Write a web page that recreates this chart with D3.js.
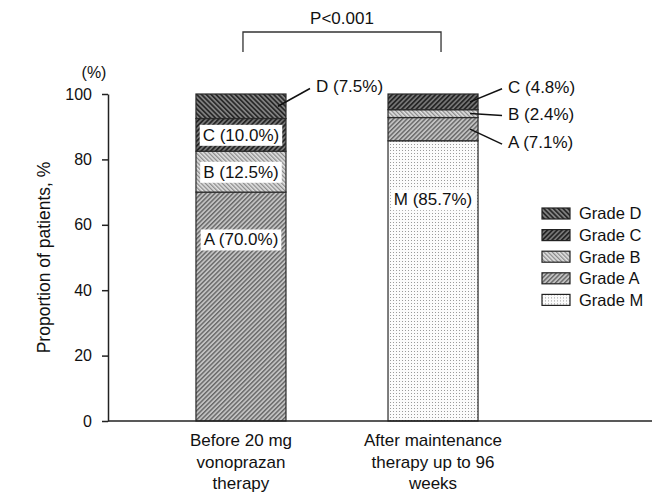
<!DOCTYPE html>
<html>
<head>
<meta charset="utf-8">
<script src="https://cdn.jsdelivr.net/npm/d3@7"></script>
<style>
  body { margin: 0; background: #fff; }
  text { font-family: "Liberation Sans", Arial, Helvetica, sans-serif; fill: #111; }
</style>
</head>
<body>
<div id="chart"></div>
<script>
// data
const groups = ['before', 'after'];
const groupLabels = [['Before 20 mg', 'vonoprazan', 'therapy'], ['After maintenance', 'therapy up to 96', 'weeks']];
const grades = ['M', 'A', 'B', 'C', 'D'];
const beforeValues = [0, 70.0, 12.5, 10.0, 7.5];
const afterValues = [85.7, 7.1, 2.4, 4.8, 0];
const yTicks = [0, 20, 40, 60, 80, 100];
const legendGrades = ['D', 'C', 'B', 'A', 'M'];
const pValue = 'P<0.001';
// label anchors in % units (null = no label), outside = drawn right of the bar with a leader
const beforeLabelAt = [null, 55.5, 76.2, 87.5, 102.3];
const beforeOutside = [false, false, false, false, true];
const afterLabelAt = [67.8, 85.3, 94.0, 102.2, null];
const afterOutside = [false, true, true, true, false];

const W = 654, H = 492;
const svg = d3.select('#chart').append('svg')
    .attr('width', W)
    .attr('height', H);

// hatch patterns
const defs = svg.append('defs');
function hatch(id, bg, fg, angle, size, lw) {
    const p = defs.append('pattern')
        .attr('id', id)
        .attr('patternUnits', 'userSpaceOnUse')
        .attr('width', size).attr('height', size)
        .attr('patternTransform', 'rotate(' + angle + ')');
    p.append('rect').attr('width', size).attr('height', size).attr('fill', bg);
    p.append('rect').attr('width', lw).attr('height', size).attr('fill', fg);
}
hatch('pD', '#868686', '#2a2a2a', -45, 3.4, 1.8);
hatch('pC', '#7a7a7a', '#262626', 45, 3.4, 1.8);
hatch('pB', '#e2e2e2', '#8a8a8a', -45, 3, 1.3);
hatch('pA', '#c2c2c2', '#666', 45, 3.2, 1.4);
const dots = defs.append('pattern')
    .attr('id', 'pM')
    .attr('patternUnits', 'userSpaceOnUse')
    .attr('width', 3).attr('height', 3);
dots.append('rect').attr('width', 3).attr('height', 3).attr('fill', '#fbfbfb');
dots.append('rect').attr('width', 1).attr('height', 1).attr('fill', '#9a9a9a');

const fills = { M: 'url(#pM)', A: 'url(#pA)', B: 'url(#pB)', C: 'url(#pC)', D: 'url(#pD)' };

const x = d3.scaleBand()
    .domain(groups)
    .range([108, 566])
    .paddingInner(0.53125)
    .paddingOuter(0.458);

const y = d3.scaleLinear()
    .domain([0, 100])
    .range([421, 94]);

const table = groups.map((g, i) => {
    const vals = i === 0 ? beforeValues : afterValues;
    const at = i === 0 ? beforeLabelAt : afterLabelAt;
    const out = i === 0 ? beforeOutside : afterOutside;
    let acc = 0;
    return grades.map((gr, j) => {
        const seg = { group: g, grade: gr, value: vals[j], y0: acc, y1: acc + vals[j], labelAt: at[j], outside: out[j] };
        acc += vals[j];
        return seg;
    }).filter(d => d.value > 0);
});

// bars
table.forEach(segs => {
    svg.append('g').selectAll('rect')
        .data(segs)
        .join('rect')
        .attr('x', d => x(d.group))
        .attr('y', d => y(d.y1))
        .attr('width', x.bandwidth())
        .attr('height', d => y(d.y0) - y(d.y1))
        .attr('fill', d => fills[d.grade])
        .attr('stroke', '#2a2a2a')
        .attr('stroke-width', 1.2);
});

// value labels
const fmt = d => d.grade + ' (' + d.value.toFixed(1) + '%)';
table.forEach(segs => {
    segs.filter(d => d.labelAt !== null).forEach(d => {
        const cx = x(d.group) + x.bandwidth() / 2;
        const right = x(d.group) + x.bandwidth();
        if (!d.outside) {
            const t = svg.append('text')
                .attr('x', cx)
                .attr('y', y(d.labelAt))
                .attr('dy', '0.35em')
                .attr('text-anchor', 'middle')
                .style('font-size', '17px')
                .text(fmt(d));
            const bb = t.node().getBBox();
            svg.insert('rect', 'text')
                .attr('x', bb.x - 3)
                .attr('y', bb.y - 1)
                .attr('width', bb.width + 6)
                .attr('height', bb.height + 2)
                .attr('fill', '#fff');
        } else {
            const ty = y(d.labelAt);
            svg.append('line')
                .attr('x1', right - 8)
                .attr('y1', y((d.y0 + d.y1) / 2))
                .attr('x2', right + 24)
                .attr('y2', ty + 2)
                .attr('stroke', '#111')
                .attr('stroke-width', 1.5);
            svg.append('text')
                .attr('x', right + 30)
                .attr('y', ty)
                .attr('dy', '0.35em')
                .style('font-size', '17px')
                .text(fmt(d));
        }
    });
});

// y axis
const yAxis = svg.append('g')
    .attr('transform', 'translate(108,0)')
    .call(d3.axisLeft(y).tickValues(yTicks).tickSize(6).tickSizeOuter(0).tickPadding(10));
yAxis.select('.domain').attr('stroke', '#222').attr('stroke-width', 1.5);
yAxis.selectAll('.tick line').attr('stroke', '#222').attr('stroke-width', 1.5);
yAxis.selectAll('.tick text')
    .style('font-size', '16px')
    .style('font-family', '"Liberation Sans", Arial, sans-serif')
    .attr('fill', '#111');

// baseline
svg.append('line')
    .attr('x1', 108).attr('x2', 652)
    .attr('y1', y(0)).attr('y2', y(0))
    .attr('stroke', '#222')
    .attr('stroke-width', 1.5);

svg.append('text')
    .attr('x', 94)
    .attr('y', 78)
    .attr('text-anchor', 'middle')
    .style('font-size', '16px')
    .text('(%)');

svg.append('text')
    .attr('transform', 'translate(50,' + y(50) + ') rotate(-90)')
    .attr('text-anchor', 'middle')
    .style('font-size', '17.5px')
    .text('Proportion of patients, %');

// x category labels
groups.forEach((g, i) => {
    const t = svg.append('text')
        .attr('x', x(g) + x.bandwidth() / 2)
        .attr('y', 446)
        .attr('text-anchor', 'middle')
        .style('font-size', '17px');
    groupLabels[i].forEach((line, k) => {
        t.append('tspan')
            .attr('x', x(g) + x.bandwidth() / 2)
            .attr('dy', k === 0 ? 0 : 21.5)
            .text(line);
    });
});

// significance bracket
const bx1 = x(groups[0]) + x.bandwidth() / 2 + 2;
const bx2 = x(groups[1]) + x.bandwidth() / 2 + 8;
svg.append('path')
    .attr('d', 'M' + bx1 + ',52V32H' + bx2 + 'V52')
    .attr('fill', 'none')
    .attr('stroke', '#333')
    .attr('stroke-width', 1.3);
svg.append('text')
    .attr('x', (bx1 + bx2) / 2)
    .attr('y', 24)
    .attr('text-anchor', 'middle')
    .style('font-size', '17px')
    .text(pValue);

// legend
const legend = svg.append('g').attr('transform', 'translate(542,208)');
legendGrades.forEach((gr, i) => {
    const row = legend.append('g').attr('transform', 'translate(0,' + (i * 21.6) + ')');
    row.append('rect')
        .attr('width', 28).attr('height', 11)
        .attr('fill', fills[gr])
        .attr('stroke', '#222')
        .attr('stroke-width', 1.2);
    row.append('text')
        .attr('x', 37)
        .attr('y', 5.5)
        .attr('dy', '0.36em')
        .style('font-size', '16.5px')
        .text('Grade ' + gr);
});
</script>
</body>
</html>
